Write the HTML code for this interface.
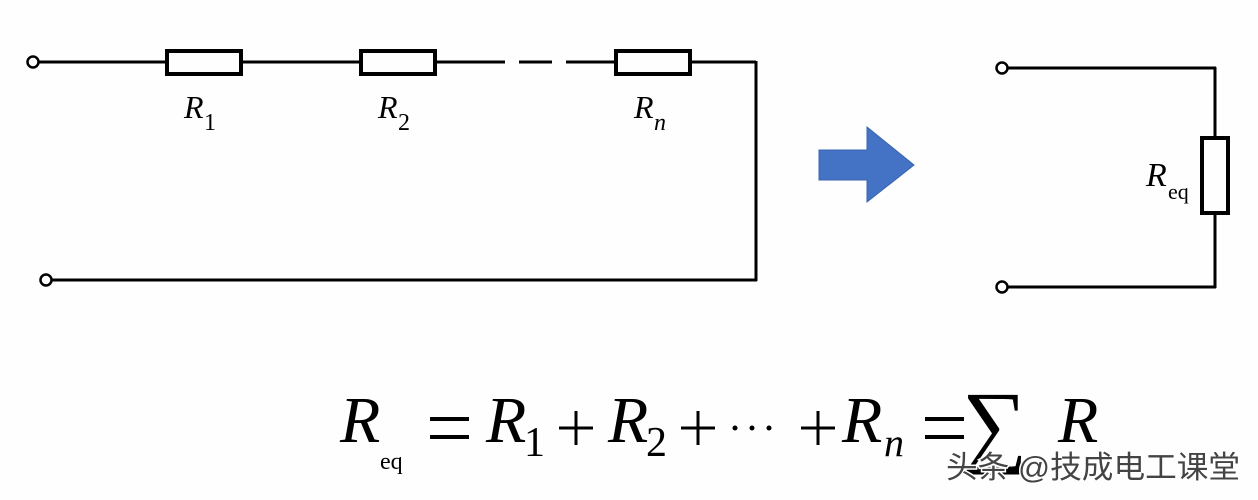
<!DOCTYPE html>
<html><head><meta charset="utf-8"><style>
html,body{margin:0;padding:0;background:#fefefe;}
svg{display:block;}
.m{font-family:"Liberation Serif",serif;font-style:italic;}
.u{font-family:"Liberation Serif",serif;}
</style></head><body>
<svg width="1258" height="500" viewBox="0 0 1258 500" xmlns="http://www.w3.org/2000/svg">
<rect width="1258" height="500" fill="#fefefe"/>
<g stroke="#000" stroke-width="3" fill="none">
<line x1="39" y1="62" x2="166" y2="62"/>
<line x1="242" y1="62" x2="360" y2="62"/>
<line x1="436" y1="62" x2="505" y2="62"/>
<line x1="519" y1="62" x2="552" y2="62"/>
<line x1="566" y1="62" x2="615" y2="62"/>
<line x1="691" y1="62" x2="756" y2="62"/>
<line x1="756" y1="61" x2="756" y2="281"/>
<line x1="52" y1="280" x2="757" y2="280"/>
<rect x="167" y="51" width="74" height="23" stroke-width="4"/>
<rect x="361" y="51" width="74" height="23" stroke-width="4"/>
<rect x="616" y="51" width="74" height="23" stroke-width="4"/>
<circle cx="33" cy="62" r="5.5" stroke-width="2.5" fill="#fff"/>
<circle cx="46" cy="280" r="5.5" stroke-width="2.5" fill="#fff"/>
<line x1="1008" y1="68" x2="1216" y2="68"/>
<line x1="1215" y1="67" x2="1215" y2="138"/>
<line x1="1215" y1="214" x2="1215" y2="288"/>
<line x1="1008" y1="287" x2="1216" y2="287"/>
<rect x="1202" y="138" width="26" height="75" stroke-width="4"/>
<circle cx="1002" cy="68" r="5.5" stroke-width="2.5" fill="#fff"/>
<circle cx="1002" cy="287" r="5.5" stroke-width="2.5" fill="#fff"/>
</g>
<polygon points="819,150 867,150 867,127 914,165 867,202 867,180 819,180" fill="#4472c4" stroke="#3a64b0" stroke-width="1"/>
<g fill="#000">
<text class="m" x="184" y="118" font-size="32">R</text><text class="u" x="204" y="130" font-size="24">1</text>
<text class="m" x="378" y="118" font-size="32">R</text><text class="u" x="398" y="130" font-size="24">2</text>
<text class="m" x="634" y="118" font-size="32">R</text><text class="m" x="654" y="130" font-size="24">n</text>
<text class="m" x="1146" y="186" font-size="34">R</text><text class="u" x="1168" y="199" font-size="22">eq</text>
<text class="m" x="340" y="442" font-size="66">R</text>
<text class="u" x="380" y="469" font-size="24">eq</text>
<text class="m" x="486" y="442" font-size="66">R</text><text class="u" x="524" y="456" font-size="42">1</text>
<text class="m" x="608" y="442" font-size="66">R</text><text class="u" x="646" y="456" font-size="42">2</text>
<text class="m" x="842" y="442" font-size="66">R</text><text class="m" x="884" y="456" font-size="40">n</text>
<text class="u" x="962" y="455" font-size="92">∑</text>
<text class="m" x="1058" y="442" font-size="66">R</text>
</g>
<g stroke="#000" stroke-width="4" fill="none">
<line x1="430" y1="419" x2="469" y2="419"/><line x1="430" y1="437" x2="469" y2="437"/>
<line x1="925" y1="419" x2="964" y2="419"/><line x1="925" y1="437" x2="964" y2="437"/>
<line x1="559" y1="428" x2="593" y2="428" stroke-width="3"/><line x1="576" y1="411" x2="576" y2="445" stroke-width="3"/>
<line x1="681" y1="428" x2="715" y2="428" stroke-width="3"/><line x1="698" y1="411" x2="698" y2="445" stroke-width="3"/>
<line x1="801" y1="428" x2="835" y2="428" stroke-width="3"/><line x1="818" y1="411" x2="818" y2="445" stroke-width="3"/>
</g>
<g fill="#000"><circle cx="735" cy="428" r="2.5"/><circle cx="752" cy="428" r="2.5"/><circle cx="769" cy="428" r="2.5"/></g>
<text x="946" y="478" font-family="'Liberation Sans','Noto Sans CJK SC',sans-serif" font-size="31" fill="#444" stroke="#fff" stroke-width="3" paint-order="stroke" textLength="294" lengthAdjust="spacingAndGlyphs">头条 @技成电工课堂</text>
</svg>
</body></html>
